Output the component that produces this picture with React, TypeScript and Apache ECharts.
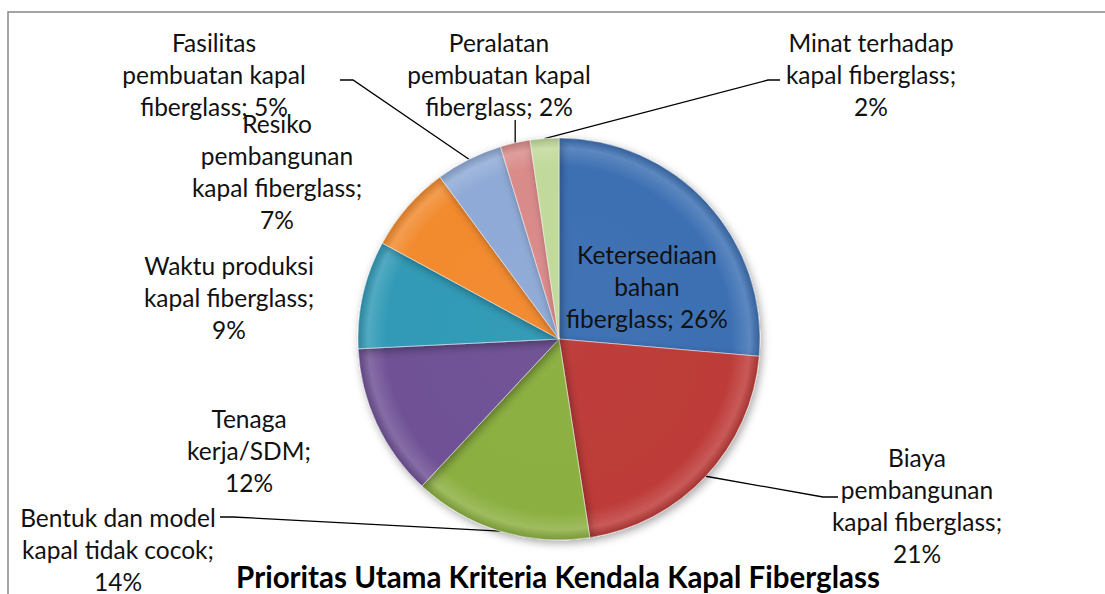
import React, { useEffect, useRef } from "react";
import * as echarts from "echarts";

const categories = [
  "Ketersediaan bahan fiberglass",
  "Biaya pembangunan kapal fiberglass",
  "Bentuk dan model kapal tidak cocok",
  "Tenaga kerja/SDM",
  "Waktu produksi kapal fiberglass",
  "Resiko pembangunan kapal fiberglass",
  "Fasilitas pembuatan kapal fiberglass",
  "Peralatan pembuatan kapal fiberglass",
  "Minat terhadap kapal fiberglass",
];
const values = [26.4, 21.2, 14.4, 12.3, 8.7, 7.0, 5.4, 2.4, 2.3];
const sliceColors = [
  "#3D70B3",
  "#BD3B38",
  "#8BAF40",
  "#6F5195",
  "#319AB6",
  "#F28A2E",
  "#8FAAD6",
  "#D98B8A",
  "#C1D99A",
];
const chartTitle = "Prioritas Utama Kriteria Kendala Kapal Fiberglass";

// words per label line (layout only)
const LINE_WORDS = [
  [1, 1, 2],
  [1, 1, 2, 1],
  [3, 3, 1],
  [1, 1, 1],
  [2, 2, 1],
  [1, 1, 2, 1],
  [1, 2, 2],
  [1, 2, 2],
  [2, 2, 1],
];
const LABEL_POS = [
  [647, 286],
  [917, 505],
  [118, 549],
  [249, 450],
  [229, 297],
  [277, 171],
  [214, 74],
  [499, 74],
  [871, 74],
];
const LEADER: any[] = [
  null,
  [[823, 497], [838, 497]],
  [[233, 517], [220, 517]],
  null,
  null,
  null,
  [[353, 80], [340, 80]],
  "vertical",
  [[768, 80], [780, 80]],
];

const CX = 559;
const CY = 339;
const R = 201;

function shade(hex: string, amt: number) {
  const n = parseInt(hex.slice(1), 16);
  let r = (n >> 16) & 255, g = (n >> 8) & 255, b = n & 255;
  const f = (c: number) =>
    Math.max(0, Math.min(255, Math.round(amt >= 0 ? c + (255 - c) * amt : c * (1 + amt))));
  return `rgb(${f(r)},${f(g)},${f(b)})`;
}

function wrapLabel(text: string, spec: number[]) {
  const words = text.split(" ");
  const lines: string[] = [];
  let k = 0;
  for (const n of spec) {
    lines.push(words.slice(k, k + n).join(" "));
    k += n;
  }
  if (k < words.length) lines[lines.length - 1] += " " + words.slice(k).join(" ");
  return lines.join("\n");
}

export default function App() {
  const ref = useRef<HTMLDivElement>(null);
  useEffect(() => {
    document.body.style.margin = "0";
    const chart = echarts.init(ref.current!, null, { renderer: "svg" });
    const data = categories.map((name, i) => {
      const c = sliceColors[i];
      const item: any = {
        name,
        value: values[i],
        itemStyle: {
          color: new echarts.graphic.RadialGradient(
            CX,
            CY,
            R,
            [
              { offset: 0, color: shade(c, 0.02) },
              { offset: 0.86, color: c },
              { offset: 0.95, color: shade(c, 0.16) },
              { offset: 1, color: shade(c, -0.14) },
            ],
            true
          ),
        },
      };
      if (i === 0) item.label = { position: "inside" };
      if (!LEADER[i]) item.labelLine = { show: false };
      return item;
    });
    chart.setOption({
      animation: false,
      backgroundColor: "#ffffff",
      graphic: [
        {
          type: "rect",
          shape: { x: 8, y: 12, width: 1120, height: 620 },
          style: { fill: "none", stroke: "#878787", lineWidth: 1.5 },
          silent: true,
        },
        {
          type: "text",
          x: 558,
          y: 576,
          style: {
            text: chartTitle,
            font: "bold 29.5px Lato",
            fill: "#000",
            align: "center",
            verticalAlign: "middle",
          },
        },
      ],
      series: [
        {
          type: "pie",
          center: [CX, CY],
          radius: R,
          startAngle: 90,
          clockwise: true,
          avoidLabelOverlap: false,
          data,
          itemStyle: {
            borderColor: "rgba(255,255,255,0.45)",
            borderWidth: 1,
            shadowBlur: 8,
            shadowOffsetX: 2,
            shadowOffsetY: 3,
            shadowColor: "rgba(0,0,0,0.35)",
          },
          label: {
            show: true,
            position: "outside",
            color: "#111",
            fontFamily: "Lato",
            fontSize: 24.5,
            lineHeight: 32,
            align: "center",
            formatter: (p: any) =>
              wrapLabel(`${p.name}; ${Math.round(p.percent)}%`, LINE_WORDS[p.dataIndex]),
          },
          labelLine: {
            show: true,
            length: 10,
            length2: 10,
            lineStyle: { color: "#000", width: 1.3 },
          },
          labelLayout: (params: any) => {
            const i = params.dataIndex;
            const [x, y] = LABEL_POS[i];
            const res: any = { x, y, align: "center", verticalAlign: "middle" };
            const L = LEADER[i];
            if (L && params.labelLinePoints) {
              const e = params.labelLinePoints[0];
              res.labelLinePoints =
                L === "vertical"
                  ? [e, [e[0], 120], [e[0], 120]]
                  : [e, L[0], L[1]];
            }
            return res;
          },
        },
      ],
    });
    return () => chart.dispose();
  }, []);
  return <div ref={ref} style={{ width: 1105, height: 594 }} />;
}
